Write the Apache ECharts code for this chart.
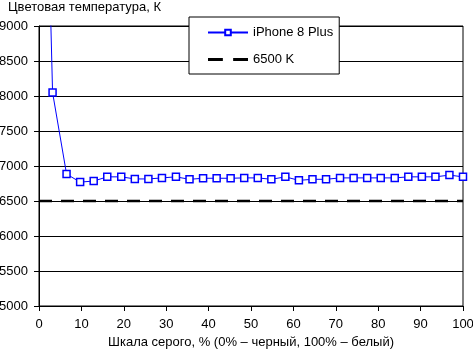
<!DOCTYPE html>
<html>
<head>
<meta charset="utf-8">
<script src="https://cdn.jsdelivr.net/npm/echarts@6/dist/echarts.min.js"></script>
<style>
  html, body { margin: 0; padding: 0; background: #fff; }
  #chart { width: 473px; height: 349px; }
</style>
</head>
<body>
<div id="chart"></div>
<script>
// grey level, % (x)
const grayLevels = [0, 3.2, 6.5, 9.7, 12.9, 16.1, 19.4, 22.6, 25.8, 29.0, 32.3, 35.5, 38.7, 41.9, 45.2, 48.4,
  51.6, 54.8, 58.1, 61.3, 64.5, 67.7, 71.0, 74.2, 77.4, 80.6, 83.9, 87.1, 90.3, 93.5, 96.8, 100];
// colour temperature, K
const iphoneTemps = [15800, 8050, 6885, 6770, 6785, 6845, 6845, 6815, 6815, 6830, 6845, 6810, 6825, 6825, 6825, 6830,
  6830, 6810, 6845, 6795, 6810, 6810, 6830, 6830, 6830, 6830, 6830, 6845, 6845, 6845, 6870, 6845];
const refLine = [[0, 6500], [100, 6500]];
const seriesNames = ["iPhone 8 Plus", "6500 K"];

const chart = echarts.init(document.getElementById("chart"));
const font = "Arial";
chart.setOption({
  animation: false,
  textStyle: { fontFamily: font },
  grid: {
    left: 39, right: 10, top: 26, bottom: 43,
    outerBoundsMode: "none",
    containLabel: false,
    show: true, borderColor: "#000", borderWidth: 1, backgroundColor: "transparent"
  },
  title: {
    text: "Цветовая температура, К",
    left: 0, top: 0,
    padding: [1, 5, 5, 8],
    textStyle: { fontSize: 13, fontWeight: "normal", color: "#000", fontFamily: font }
  },
  legend: {
    orient: "vertical",
    left: 189, top: 17,
    padding: [9, 6, 8, 18],
    itemGap: 14,
    itemWidth: 40, itemHeight: 7,
    backgroundColor: "#fff",
    borderColor: "#000", borderWidth: 1,
    textStyle: { fontSize: 13, color: "#000", fontFamily: font },
    data: [
      { name: seriesNames[0] },
      { name: seriesNames[1], icon: "path://M0,0H13V2.5H0Z M22,0H35V2.5H22Z" }
    ]
  },
  xAxis: {
    type: "value",
    min: 0, max: 100, interval: 10,
    name: "Шкала серого, % (0% – черный, 100% – белый)",
    nameLocation: "middle",
    nameGap: 26,
    nameTextStyle: { fontSize: 13, color: "#000", fontFamily: font },
    axisLine: { lineStyle: { color: "#000", width: 1 } },
    axisTick: { show: true, length: 5, lineStyle: { color: "#000" } },
    axisLabel: { fontSize: 13, color: "#000", margin: 12, fontFamily: font },
    splitLine: { show: false }
  },
  yAxis: {
    type: "value",
    min: 5000, max: 9000, interval: 500,
    axisLine: { show: true, lineStyle: { color: "#000", width: 1 } },
    axisTick: { show: true, length: 5, lineStyle: { color: "#000" } },
    axisLabel: { fontSize: 13, color: "#000", margin: 11, fontFamily: font, formatter: (v) => String(v) },
    splitLine: { show: true, lineStyle: { color: "#000", width: 1 } }
  },
  series: [
    {
      name: seriesNames[0],
      type: "line",
      data: grayLevels.map((x, i) => [x, iphoneTemps[i]]),
      clip: true,
      symbol: "rect",
      symbolSize: 7,
      showAllSymbol: true,
      lineStyle: { color: "#0000ff", width: 1 },
      itemStyle: { color: "#fff", borderColor: "#0000ff", borderWidth: 1.5 },
      z: 3
    },
    {
      name: seriesNames[1],
      type: "line",
      data: refLine,
      symbol: "none",
      lineStyle: { color: "#000", width: 2.5, type: [13, 9] },
      itemStyle: { color: "#000" },
      z: 2
    }
  ]
});
</script>
</body>
</html>
